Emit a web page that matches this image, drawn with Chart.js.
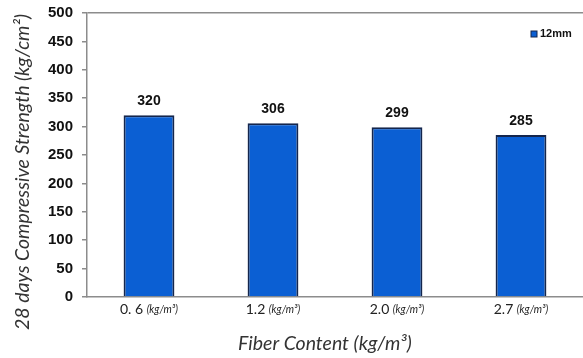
<!DOCTYPE html>
<html>
<head>
<meta charset="utf-8">
<script src="https://cdn.jsdelivr.net/npm/chart.js@4"></script>
<style>
  html, body { margin: 0; padding: 0; background: #fff; }
  #wrap { width: 583px; height: 358px; position: relative; }
</style>
</head>
<body>
<div id="wrap"><canvas id="c"></canvas></div>
<script>
// Fiber dosages on the category axis and their unit
const fiberContents = ['0. 6', '1.2', '2.0', '2.7'];
const fiberUnit = '(kg/m³)';

// 28-day compressive strength, 12 mm fibers
const seriesName = '12mm';
const strength12mm = [320, 306, 299, 285];

// Value axis ticks
const yTickValues = [0, 50, 100, 150, 200, 250, 300, 350, 400, 450, 500];

const yTitle = '28 days Compressive Strength (kg/cm²)';
const xTitle = 'Fiber Content (kg/m³)';

const BAR_FILL = '#0b5fd3';
const BAR_EDGE = '#14264d';
const AXIS_GREY = '#8c8c8c';
const BOLD_FACE = '"Liberation Sans", Arial, sans-serif';

// Category labels: number in regular weight, unit in small italics
const xLabelPlugin = {
  id: 'xLabels',
  afterDraw(chart) {
    const ctx = chart.ctx;
    const x = chart.scales.x;
    const y = x.top + 12;
    ctx.save();
    ctx.fillStyle = '#222';
    ctx.textBaseline = 'middle';
    fiberContents.forEach((lab, i) => {
      const cx = x.getPixelForTick(i);
      ctx.font = '14px Lato';
      const w1 = ctx.measureText(lab + ' ').width;
      ctx.font = 'italic 10.5px Lato';
      const w2 = ctx.measureText(fiberUnit).width;
      const start = cx - (w1 + w2) / 2;
      ctx.font = '14px Lato';
      ctx.textAlign = 'left';
      ctx.fillText(lab + ' ', start, y);
      ctx.font = 'italic 10.5px Lato';
      ctx.fillText(fiberUnit, start + w1, y + 1);
    });
    ctx.restore();
  }
};

// Axis titles
const axisTitlePlugin = {
  id: 'axisTitles',
  afterDraw(chart) {
    const ctx = chart.ctx;
    ctx.save();
    ctx.fillStyle = '#333';
    ctx.textAlign = 'center';
    ctx.textBaseline = 'middle';
    ctx.font = 'italic 19.5px Lato';
    ctx.fillText(xTitle, 325, 344);
    ctx.translate(23, 172);
    ctx.rotate(-Math.PI / 2);
    ctx.font = 'italic 19.5px Lato';
    ctx.fillText(yTitle, 0, 0);
    ctx.restore();
  }
};

// Value labels above each bar
const valueLabelPlugin = {
  id: 'valueLabels',
  afterDatasetsDraw(chart) {
    const ctx = chart.ctx;
    const meta = chart.getDatasetMeta(0);
    const data = chart.data.datasets[0].data;
    ctx.save();
    ctx.fillStyle = '#111';
    ctx.font = 'bold 14px ' + BOLD_FACE;
    ctx.textAlign = 'center';
    ctx.textBaseline = 'bottom';
    meta.data.forEach((bar, i) => {
      ctx.fillText(String(data[i]), bar.x, bar.y - 7);
    });
    ctx.restore();
  }
};

// Legend swatch and label inside the plot, top right
const legendPlugin = {
  id: 'cornerLegend',
  afterDraw(chart) {
    const ctx = chart.ctx;
    const ds = chart.data.datasets[0];
    const area = chart.chartArea;
    const tx = area.right - 43;
    const ty = area.top + 21;
    ctx.save();
    ctx.fillStyle = ds.backgroundColor;
    ctx.strokeStyle = ds.borderColor;
    ctx.lineWidth = 1;
    ctx.fillRect(tx - 9, ty - 3, 6, 6);
    ctx.strokeRect(tx - 9, ty - 3, 6, 6);
    ctx.fillStyle = '#111';
    ctx.font = 'bold 11px ' + BOLD_FACE;
    ctx.textAlign = 'left';
    ctx.textBaseline = 'middle';
    ctx.fillText(ds.label, tx, ty);
    ctx.restore();
  }
};

new Chart(document.getElementById('c'), {
  type: 'bar',
  data: {
    labels: fiberContents,
    datasets: [{
      label: seriesName,
      data: strength12mm,
      backgroundColor: BAR_FILL,
      borderColor: BAR_EDGE,
      borderWidth: 2,
      barPercentage: 0.41,
      categoryPercentage: 1.0
    }]
  },
  options: {
    responsive: true,
    maintainAspectRatio: false,
    animation: false,
    devicePixelRatio: 1,
    layout: { padding: { top: 13, right: 0, left: 0, bottom: 0 } },
    plugins: {
      legend: { display: false },
      tooltip: { enabled: false }
    },
    scales: {
      x: {
        afterFit(scale) { scale.height = 61; scale.paddingLeft = 0; scale.paddingRight = 0; },
        grid: { display: false },
        border: { display: true, color: AXIS_GREY, width: 1.5 },
        ticks: { display: false }
      },
      y: {
        min: 0,
        max: 500,
        afterFit(scale) { scale.width = 87; scale.paddingTop = 0; scale.paddingBottom = 0; },
        afterBuildTicks(scale) { scale.ticks = yTickValues.map(v => ({ value: v })); },
        border: { display: true, color: AXIS_GREY, width: 1.5 },
        grid: {
          drawOnChartArea: true,
          color: ctx => (ctx.tick && ctx.tick.value === 500) ? AXIS_GREY : 'rgba(0,0,0,0)',
          lineWidth: 1.5,
          tickColor: AXIS_GREY,
          tickLength: 5
        },
        ticks: {
          padding: 9,
          color: '#111',
          font: { family: BOLD_FACE, size: 15, weight: 'bold' }
        }
      }
    }
  },
  plugins: [valueLabelPlugin, xLabelPlugin, axisTitlePlugin, legendPlugin]
});
</script>
</body>
</html>
